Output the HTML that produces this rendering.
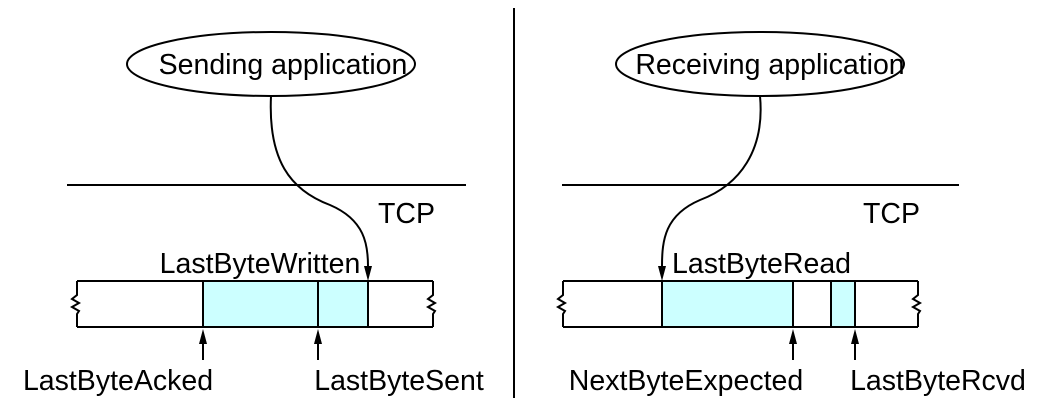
<!DOCTYPE html>
<html><head><style>body{margin:0;background:#fff}svg{display:block}text{font-family:"Liberation Sans",sans-serif;font-size:28.5px;fill:#000}</style></head>
<body>
<svg width="1045" height="401" viewBox="0 0 1045 401" xmlns="http://www.w3.org/2000/svg">
<g stroke="#000" stroke-width="2" fill="none">
<line x1="514" y1="8" x2="514" y2="398"/>
<line x1="67" y1="185" x2="466" y2="185"/>
<line x1="562" y1="185" x2="959" y2="185"/>
<ellipse cx="271" cy="64" rx="144" ry="32" fill="#fff"/>
<ellipse cx="760" cy="64" rx="144" ry="32" fill="#fff"/>
<rect x="203" y="281" width="165" height="46" fill="#ccffff"/>
<line x1="77" y1="281" x2="433" y2="281"/>
<line x1="77" y1="327" x2="433" y2="327"/>
<line x1="318" y1="281" x2="318" y2="327"/>
<path d="M77,281 L77,295 L72,299 L79,303 L72,307 L79,311 L77,314 L77,327"/>
<path d="M433,281 L433,295 L428,299 L435,303 L428,307 L435,311 L433,314 L433,327"/>
<rect x="662" y="281" width="131" height="46" fill="#ccffff"/>
<rect x="831" y="281" width="24" height="46" fill="#ccffff"/>
<line x1="563" y1="281" x2="918" y2="281"/>
<line x1="563" y1="327" x2="918" y2="327"/>
<path d="M563,281 L563,295 L558,299 L565,303 L558,307 L565,311 L563,314 L563,327"/>
<path d="M918,281 L918,295 L913,299 L920,303 L913,307 L920,311 L918,314 L918,327"/>
<path d="M271,96 C268,160 290,190 330,205 C365,220 368,245 368,266"/>
<path d="M760,96 C765,150 740,185 700,200 C665,215 662,240 662,266"/>
<line x1="203" y1="360" x2="203" y2="343"/>
<line x1="318" y1="360" x2="318" y2="343"/>
<line x1="793" y1="360" x2="793" y2="343"/>
<line x1="855" y1="360" x2="855" y2="343"/>
</g>
<g fill="#000">
<path d="M364,266 L372,266 L368,281 Z"/>
<path d="M658,266 L666,266 L662,281 Z"/>
<path d="M199,344 L207,344 L203,329 Z"/>
<path d="M314,344 L322,344 L318,329 Z"/>
<path d="M789,344 L797,344 L793,329 Z"/>
<path d="M851,344 L859,344 L855,329 Z"/>
</g>
<text x="283" y="74" text-anchor="middle">Sending application</text>
<text x="770" y="74" text-anchor="middle">Receiving application</text>
<text x="378" y="223">TCP</text>
<text x="863" y="223">TCP</text>
<text x="260" y="273" text-anchor="middle">LastByteWritten</text>
<text x="672" y="273">LastByteRead</text>
<text x="118" y="390" text-anchor="middle">LastByteAcked</text>
<text x="399" y="390" text-anchor="middle">LastByteSent</text>
<text x="686" y="390" text-anchor="middle">NextByteExpected</text>
<text x="938" y="390" text-anchor="middle">LastByteRcvd</text>
</svg>
</body></html>
